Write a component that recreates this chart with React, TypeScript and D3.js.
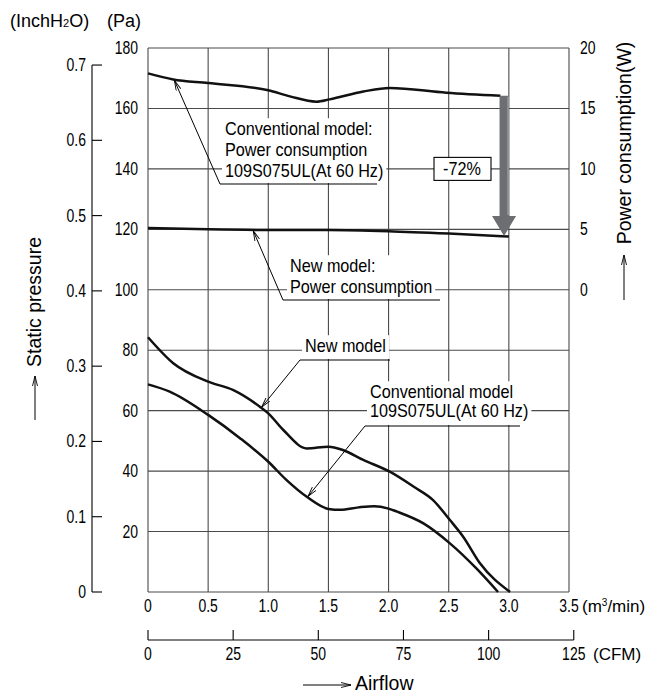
import * as d3 from 'd3';
import { useEffect, useRef } from 'react';

// P-Q curves: airflow (m3/min) -> static pressure (Pa)
const newFlow = [0, 0.21, 0.5, 0.71, 0.93, 1.0, 1.125, 1.32, 1.5, 1.62, 1.79, 2.01, 2.21, 2.37, 2.51, 2.62, 2.76, 3.01];
const newPressure = [84.3, 75.7, 69.6, 66.8, 61.3, 59.1, 53.6, 47.5, 48.1, 47, 43.7, 39.8, 34.8, 30.4, 23.8, 18.3, 9.5, 0];
const convFlow = [0, 0.18, 0.5, 0.765, 1.0, 1.15, 1.32, 1.5, 1.6, 1.75, 1.88, 2.0, 2.07, 2.29, 2.51, 2.73, 2.91];
const convPressure = [68.7, 66.3, 58.6, 50.9, 43.1, 37.1, 31.5, 27.5, 27.2, 28.0, 28.4, 27.6, 26.6, 22.7, 16.1, 7.8, 0];

// power consumption (W)
const newPowerFlow = [0, 0.5, 1.0, 1.5, 2.0, 2.5, 3.0];
const newPower = [5.1, 5.0, 4.95, 4.95, 4.85, 4.65, 4.4];
const convPowerFlow = [0, 0.21, 0.5, 1.0, 1.18, 1.4, 1.51, 1.79, 2.01, 2.48, 2.93];
const convPower = [17.9, 17.4, 17.1, 16.5, 16.0, 15.56, 15.75, 16.4, 16.7, 16.3, 16.05];

// the -72% reduction arrow
const reductionFlow = 2.96;
const reductionFrom = 16.05;
const reductionTo = 4.45;
const reductionLabel = '-72%';

// ticks
const m3Ticks = [0, 0.5, 1.0, 1.5, 2.0, 2.5, 3.0, 3.5];
const cfmTicks = [0, 25, 50, 75, 100, 125];
const paTicks = [0, 20, 40, 60, 80, 100, 120, 140, 160, 180];
const inchTicks = [0, 0.1, 0.2, 0.3, 0.4, 0.5, 0.6, 0.7];
const wattTicks = [0, 5, 10, 15, 20];

// annotation texts
const convPowerNote = ['Conventional model:', 'Power consumption', '109S075UL(At 60 Hz)'];
const newPowerNote = ['New model:', 'Power consumption'];
const newNote = ['New model'];
const convNote = ['Conventional model', '109S075UL(At 60 Hz)'];

const SANS = "'Liberation Sans', Arial, sans-serif";
const GRID = '#4a4a4a';

const PA_PER_INCH = 249.089;
const M3_PER_CFM = 0.0283168;

type Sel = d3.Selection<any, any, any, any>;

// condensed text: Liberation Sans squeezed horizontally
function label(g: Sel, x: number, y: number, t: string, size = 17.5, anchor = 'start', sx = 0.8) {
  return g.append('text')
    .attr('transform', `translate(${x},${y}) scale(${sx},1)`)
    .attr('text-anchor', anchor)
    .attr('font-family', SANS).attr('font-size', size)
    .text(t);
}

export default function App() {
  const ref = useRef<SVGSVGElement | null>(null);

  useEffect(() => {
    const svg = d3.select(ref.current);
    svg.selectAll('*').remove();

    const x = d3.scaleLinear().domain([0, 3.5]).range([148, 569]);
    const y = d3.scaleLinear().domain([0, 180]).range([592, 48]);
    const yW = d3.scaleLinear().domain([0, 20]).range([y(100), y(180)]);
    const yInch = (v: number) => y(v * PA_PER_INCH);
    const xCfm = (v: number) => x(v * M3_PER_CFM);

    const at = (flows: number[], vals: number[], q: number) =>
      d3.scaleLinear().domain(flows).range(vals).clamp(true)(q);

    const defs = svg.append('defs');
    defs.append('marker')
      .attr('id', 'tip')
      .attr('viewBox', '0 0 10 6')
      .attr('refX', 10).attr('refY', 3)
      .attr('markerWidth', 10).attr('markerHeight', 6)
      .attr('markerUnits', 'userSpaceOnUse')
      .attr('orient', 'auto')
      .append('path')
      .attr('d', 'M0,0.5 L10,3 L0,5.5')
      .attr('fill', 'none')
      .attr('stroke', '#000')
      .attr('stroke-width', 0.9);

    // grid
    const grid = svg.append('g').attr('stroke', GRID).attr('stroke-width', 1.1);
    grid.selectAll('line.h').data(paTicks).enter().append('line')
      .attr('x1', x(0)).attr('x2', x(3.5))
      .attr('y1', d => y(d)).attr('y2', d => y(d));
    grid.selectAll('line.v').data(m3Ticks).enter().append('line')
      .attr('x1', d => x(d)).attr('x2', d => x(d))
      .attr('y1', y(180)).attr('y2', y(0));

    // Pa labels
    const paG = svg.append('g');
    paTicks.filter(d => d > 0).forEach(d => label(paG, 138, y(d) + 6, String(d), 17.5, 'end'));

    // InchH2O axis
    const inch = svg.append('g');
    inch.append('line')
      .attr('x1', 92).attr('x2', 92)
      .attr('y1', yInch(0.7)).attr('y2', y(0))
      .attr('stroke', '#000').attr('stroke-width', 1.1);
    inch.selectAll('line.t').data(inchTicks).enter().append('line')
      .attr('x1', 92).attr('x2', 102)
      .attr('y1', d => yInch(d)).attr('y2', d => yInch(d))
      .attr('stroke', '#000').attr('stroke-width', 1.1);
    inchTicks.forEach(d => label(inch, 86, yInch(d) + 6, d === 0 ? '0' : d.toFixed(1), 17.5, 'end'));

    // W labels
    const wG = svg.append('g');
    wattTicks.forEach(d => label(wG, 580, yW(d) + 6, String(d)));

    // m3/min labels
    const m3G = svg.append('g');
    m3Ticks.forEach(d => label(m3G, x(d), 612, d === 0 ? '0' : d.toFixed(1), 17.5, 'middle'));
    const m3Unit = label(svg, 582, 612, '(m', 17, 'start', 1);
    m3Unit.append('tspan').attr('dy', -6).attr('font-size', 10).text('3');
    m3Unit.append('tspan').attr('dy', 6).text('/min)');

    // CFM axis
    const cfm = svg.append('g');
    cfm.append('line')
      .attr('x1', xCfm(0)).attr('x2', xCfm(125))
      .attr('y1', 640).attr('y2', 640)
      .attr('stroke', '#000').attr('stroke-width', 1.1);
    cfm.selectAll('line.t').data(cfmTicks).enter().append('line')
      .attr('x1', d => xCfm(d)).attr('x2', d => xCfm(d))
      .attr('y1', 630).attr('y2', 640)
      .attr('stroke', '#000').attr('stroke-width', 1.1);
    cfmTicks.forEach(d => label(cfm, xCfm(d), 660, String(d), 17.5, 'middle'));
    label(svg, 593, 660, '(CFM)', 17, 'start', 1);

    // unit headers
    const ih = label(svg, 10, 27, '(InchH', 18, 'start', 1);
    ih.append('tspan').attr('font-size', 11).text('2');
    ih.append('tspan').text('O)');
    label(svg, 107, 27, '(Pa)', 18, 'start', 1);

    // axis titles with arrows
    const arrowLine = (x1: number, y1: number, x2: number, y2: number) =>
      svg.append('line')
        .attr('x1', x1).attr('y1', y1).attr('x2', x2).attr('y2', y2)
        .attr('stroke', '#000').attr('stroke-width', 1)
        .attr('marker-end', 'url(#tip)');

    svg.append('text')
      .attr('transform', 'translate(41,302) rotate(-90)')
      .attr('text-anchor', 'middle')
      .attr('font-family', SANS).attr('font-size', 19.5)
      .text('Static pressure');
    arrowLine(35, 420, 35, 376);

    svg.append('text')
      .attr('transform', 'translate(631,143) rotate(-90)')
      .attr('text-anchor', 'middle')
      .attr('font-family', SANS).attr('font-size', 19.5)
      .text('Power consumption(W)');
    arrowLine(624, 300, 624, 255);

    arrowLine(303, 685, 351, 685);
    svg.append('text')
      .attr('x', 355).attr('y', 690)
      .attr('font-family', SANS).attr('font-size', 19.5)
      .text('Airflow');

    // curves
    const line = d3.line<[number, number]>().curve(d3.curveMonotoneX);
    const curves = svg.append('g')
      .attr('fill', 'none').attr('stroke', '#111').attr('stroke-width', 2.5);
    curves.append('path').attr('d', line(newFlow.map((q, i) => [x(q), y(newPressure[i])])));
    curves.append('path').attr('d', line(convFlow.map((q, i) => [x(q), y(convPressure[i])])));
    curves.append('path').attr('d', line(newPowerFlow.map((q, i) => [x(q), yW(newPower[i])])));
    curves.append('path').attr('d', line(convPowerFlow.map((q, i) => [x(q), yW(convPower[i])])));

    // annotations
    const note = (
      lines: string[], tx: number, baselines: number[],
      ux1: number, ux2: number, uy: number, tip: [number, number],
    ) => {
      const g = svg.append('g');
      const texts = g.append('g');
      lines.forEach((t, i) => label(texts, tx, baselines[i], t, 18, 'start', 0.9));
      const bb = (texts.node() as SVGGElement).getBBox();
      g.insert('rect', ':first-child')
        .attr('x', bb.x - 3).attr('y', bb.y - 1)
        .attr('width', bb.width + 6).attr('height', uy - bb.y)
        .attr('fill', '#fff');
      g.append('polyline')
        .attr('points', `${ux2},${uy} ${ux1},${uy} ${tip[0]},${tip[1]}`)
        .attr('fill', 'none').attr('stroke', '#000').attr('stroke-width', 1)
        .attr('marker-end', 'url(#tip)');
    };

    const q1 = 0.22;
    note(convPowerNote, 225, [135, 156, 177], 220, 377, 184,
      [x(q1), yW(at(convPowerFlow, convPower, q1)) + 1]);
    const q2 = 0.875;
    note(newPowerNote, 290, [272, 293], 283, 440, 300,
      [x(q2), yW(at(newPowerFlow, newPower, q2)) + 1]);
    const q3 = 0.945;
    note(newNote, 305, [352], 300, 390, 360,
      [x(q3), y(at(newFlow, newPressure, q3)) - 1]);
    const q4 = 1.33;
    note(convNote, 370, [398, 417], 365, 520, 426,
      [x(q4), y(at(convFlow, convPressure, q4)) - 1]);

    // reduction arrow
    const ax = x(reductionFlow);
    const top = yW(reductionFrom);
    const tipY = yW(reductionTo);
    const arrow = svg.append('g');
    arrow.append('path')
      .attr('d', `M${ax - 4.5},${top} L${ax + 4.5},${top} L${ax + 4.5},${tipY - 20}
        L${ax + 12},${tipY - 20} L${ax},${tipY} L${ax - 12},${tipY - 20}
        L${ax - 4.5},${tipY - 20} Z`)
      .attr('fill', '#6d6e71');
    arrow.append('line')
      .attr('x1', ax + 4).attr('x2', ax + 4)
      .attr('y1', top + 1).attr('y2', tipY - 21)
      .attr('stroke', '#9a9b9e').attr('stroke-width', 1.5);

    const lx = 462;
    const ly = yW(10);
    const lbl = svg.append('g');
    lbl.append('rect')
      .attr('x', lx - 28).attr('y', ly - 11.5)
      .attr('width', 57).attr('height', 23)
      .attr('fill', '#fff').attr('stroke', '#000').attr('stroke-width', 1.1);
    label(lbl, lx, ly + 6.5, reductionLabel, 18, 'middle', 0.9);
  }, []);

  return (
    <div style={{ position: 'absolute', left: 0, top: 0 }}>
      <svg ref={ref} width={656} height={693} style={{ display: 'block', background: '#fff' }} />
    </div>
  );
}
